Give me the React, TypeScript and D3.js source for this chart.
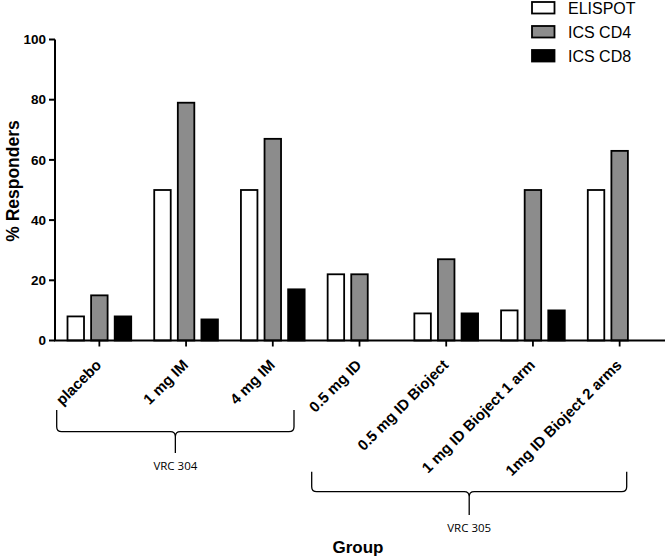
import React from "react";
import * as d3 from "d3";

const categories = [
  "placebo",
  "1 mg IM",
  "4 mg IM",
  "0.5 mg ID",
  "0.5 mg ID Bioject",
  "1 mg ID Bioject 1 arm",
  "1mg ID Bioject 2 arms",
];
const seriesNames = ["ELISPOT", "ICS CD4", "ICS CD8"];
const elispot = [8, 50, 50, 22, 9, 10, 50];
const icsCD4 = [15, 79, 67, 22, 27, 50, 63];
const icsCD8 = [8, 7, 17, 0, 9, 10, 0];
const seriesFill = ["#ffffff", "#8c8c8c", "#000000"];
const yTicks = [0, 20, 40, 60, 80, 100];
const braceGroups = [
  { label: "VRC 304", x0: 56.7, x1: 294, top: 410, mid: 431.7, bottom: 453, ly: 470 },
  { label: "VRC 305", x0: 311.7, x1: 626.7, top: 471.7, mid: 491.7, bottom: 515, ly: 532 },
];

export default function App() {
  const W = 666;
  const H = 558;
  const x = d3.scaleBand<string>().domain(categories).range([56, 663]);
  const y = d3.scaleLinear().domain([0, 100]).range([340.5, 39.5]);
  const series = [elispot, icsCD4, icsCD8];
  const barW = 16.5;
  const barStep = 23.6;
  const font = "'Liberation Sans', Arial, sans-serif";

  const bracePath = (b: any) => {
    const r = 5;
    const cx = (b.x0 + b.x1) / 2;
    return (
      `M${b.x0},${b.top} L${b.x0},${b.mid - r} Q${b.x0},${b.mid} ${b.x0 + r},${b.mid} ` +
      `L${cx - r},${b.mid} Q${cx},${b.mid} ${cx},${b.mid + r} L${cx},${b.bottom} ` +
      `M${cx},${b.mid + r} Q${cx},${b.mid} ${cx + r},${b.mid} L${b.x1 - r},${b.mid} ` +
      `Q${b.x1},${b.mid} ${b.x1},${b.mid - r} L${b.x1},${b.top}`
    );
  };

  return (
    <svg
      width={W}
      height={H}
      style={{ position: "absolute", left: 0, top: 0, background: "#fff" }}
      fontFamily={font}
    >
      {/* bars */}
      {categories.map((c, i) => {
        const cx = (x(c) as number) + x.bandwidth() / 2;
        return series.map((s, k) => {
          const v = s[i];
          if (v <= 0) return null;
          const bx = cx + (k - 1) * barStep - barW / 2;
          return (
            <rect
              key={c + k}
              x={bx}
              y={y(v)}
              width={barW}
              height={y(0) - y(v)}
              fill={seriesFill[k]}
              stroke="#000"
              strokeWidth={1.8}
            />
          );
        });
      })}

      {/* y axis */}
      <line x1={55} x2={55} y1={y(100)} y2={y(0)} stroke="#000" strokeWidth={2} />
      {yTicks.map((t) => (
        <g key={t}>
          <line x1={49} x2={55} y1={y(t)} y2={y(t)} stroke="#000" strokeWidth={2} />
          <text
            x={46}
            y={y(t)}
            dy="0.35em"
            textAnchor="end"
            fontWeight="bold"
            fontSize={13.5}
          >
            {t}
          </text>
        </g>
      ))}
      <text
        transform={`translate(19,181) rotate(-90)`}
        textAnchor="middle"
        fontWeight="bold"
        fontSize={17.5}
      >
        % Responders
      </text>

      {/* x axis */}
      <line x1={54} x2={665} y1={y(0)} y2={y(0)} stroke="#000" strokeWidth={2} />
      {categories.map((c) => {
        const cx = (x(c) as number) + x.bandwidth() / 2;
        return (
          <g key={c}>
            <line x1={cx} x2={cx} y1={y(0)} y2={y(0) + 6} stroke="#000" strokeWidth={1.8} />
            <text
              transform={`translate(${cx + 3},${366}) rotate(-45)`}
              textAnchor="end"
              fontWeight="bold"
              fontSize={15}
            >
              {c}
            </text>
          </g>
        );
      })}

      {/* braces */}
      {braceGroups.map((b) => (
        <g key={b.label}>
          <path d={bracePath(b)} fill="none" stroke="#000" strokeWidth={1.3} />
          <text
            x={(b.x0 + b.x1) / 2}
            y={b.ly}
            textAnchor="middle"
            fontSize={11.5}
            fontFamily="'Open Sans', sans-serif"
          >
            {b.label}
          </text>
        </g>
      ))}

      <text x={358} y={553} textAnchor="middle" fontWeight="bold" fontSize={17}>
        Group
      </text>

      {/* legend */}
      {seriesNames.map((n, k) => (
        <g key={n} transform={`translate(0,${k * 24})`}>
          <rect
            x={532}
            y={2}
            width={22.5}
            height={11.5}
            fill={seriesFill[k]}
            stroke="#000"
            strokeWidth={1.8}
          />
          <text x={568} y={13.5} fontSize={16}>
            {n}
          </text>
        </g>
      ))}
    </svg>
  );
}
